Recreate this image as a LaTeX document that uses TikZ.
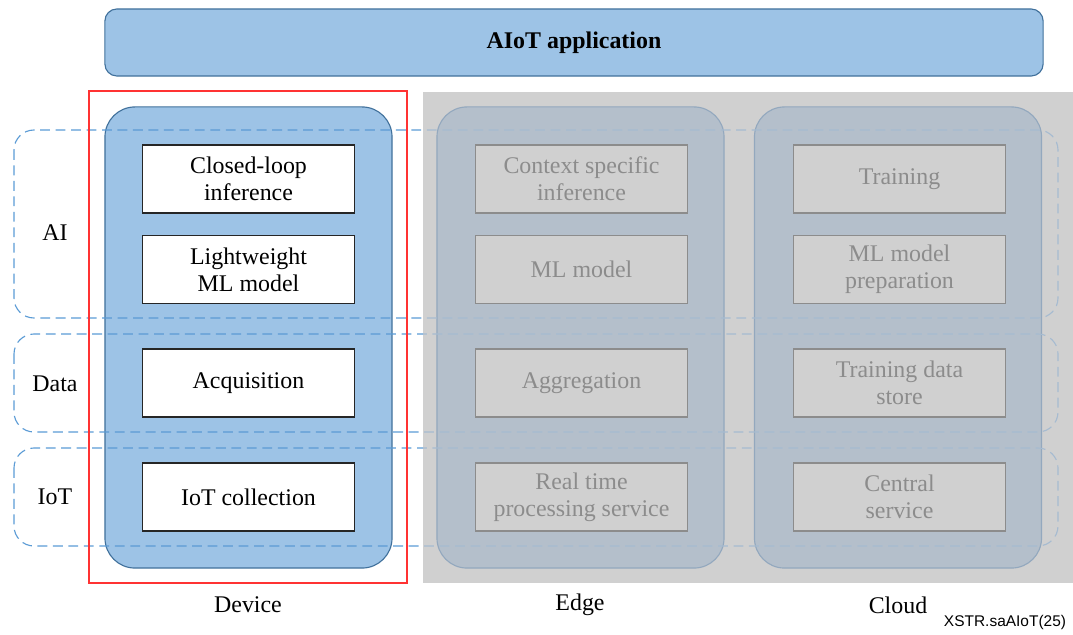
\documentclass[tikz,border=0pt]{standalone}
\usepackage{fontspec}
\setmainfont{Liberation Serif}
\newfontfamily\xstrfont{Liberation Sans}
\usepackage{tikz}
\usetikzlibrary{positioning,backgrounds}
\definecolor{aiotblue}{HTML}{9DC3E6}
\definecolor{aiotline}{HTML}{41719C}
\definecolor{aiotdash}{HTML}{5B9BD5}
\definecolor{fadebg}{HTML}{D0D0D0}
\definecolor{fadecol}{HTML}{B4BFCB}
\definecolor{fadeline}{HTML}{93A8BE}
\definecolor{fadedash}{HTML}{A6BBD0}
\definecolor{fadetext}{HTML}{8C8C8C}
\definecolor{markred}{HTML}{FF3333}
\tikzset{
  column/.style={
    rectangle, rounded corners=0.75cm, draw=aiotline, thick,
    fill=aiotblue, minimum width=7.175cm, minimum height=11.525cm,
    inner sep=0pt
  },
  columnF/.style={
    column, draw=fadeline, fill=fadecol
  },
  func/.style={
    rectangle, draw=black!85, thick, fill=white,
    minimum width=5.3cm, minimum height=1.7cm, align=center,
    font=\fontsize{17}{19}\selectfont
  },
  funcF/.style={
    func, draw=fadetext, fill=fadebg, text=fadetext
  },
  layer/.style={
    dashed, thick, dash pattern=on 7pt off 4pt, rounded corners=0.5cm
  },
  tag/.style={font=\fontsize{17}{19}\selectfont}
}

\begin{document}
\begin{tikzpicture}[x=0.025cm, y=-0.025cm]
\useasboundingbox (0,0) rectangle (1073,635);

\node[column, minimum width=23.45cm, minimum height=1.675cm,
      rounded corners=0.3cm, font=\fontsize{17}{19}\selectfont\bfseries]
      (app) at (574,42.5) {AIoT application};

\fill[fadebg] (423,92) rectangle (1073,583);

\node[column]  (device) at (248.5,337.5) {};
\node[columnF] (edge)   at (580.5,337.5) {};
\node[columnF] (cloud)  at (898,337.5)   {};

\node[func] (closed)  at (248.5,179)   {Closed-loop\\inference};
\node[func] (light)   at (248.5,269.5) {Lightweight\\ML model};
\node[func] (acq)     at (248.5,383)   {Acquisition};
\node[func] (iotcol)  at (248.5,497)   {IoT collection};

\node[funcF] (context) at (581.5,179)   {Context specific\\inference};
\node[funcF] (mlmodel) at (581.5,269.5) {ML model};
\node[funcF] (aggr)    at (581.5,383)   {Aggregation};
\node[funcF] (rtproc)  at (581.5,497)   {Real time\\processing service};

\node[funcF] (train)   at (899.5,179)   {Training};
\node[funcF] (mlprep)  at (899.5,269.5) {ML model\\preparation};
\node[funcF] (tdstore) at (899.5,383)   {Training data\\store};
\node[funcF] (central) at (899.5,497)   {Central\\service};

\foreach \top/\bot in {130/318, 334/432, 448/546}{
  \begin{scope}
    \clip (0,0) rectangle (423,635);
    \draw[layer, aiotdash] (14,\top) rectangle (1058,\bot);
  \end{scope}
  \begin{scope}
    \clip (423,0) rectangle (1073,635);
    \draw[layer, fadedash] (14,\top) rectangle (1058,\bot);
  \end{scope}
}

\node[tag] (ai)   at (55,233) {AI};
\node[tag] (data) at (55,384) {Data};
\node[tag] (iot)  at (55,497) {IoT};

\draw[markred, thick] (89,91) rectangle (407,583);

\node[tag] (devlbl)   at (248,605) {Device};
\node[tag] (edgelbl)  at (580,605) {Edge};
\node[tag] (cloudlbl) at (898,605) {Cloud};
\node[font=\xstrfont\fontsize{11}{13}\selectfont, anchor=east]
      (xstr) at (1071,622) {XSTR.saAIoT(25)};
\end{tikzpicture}
\end{document}
